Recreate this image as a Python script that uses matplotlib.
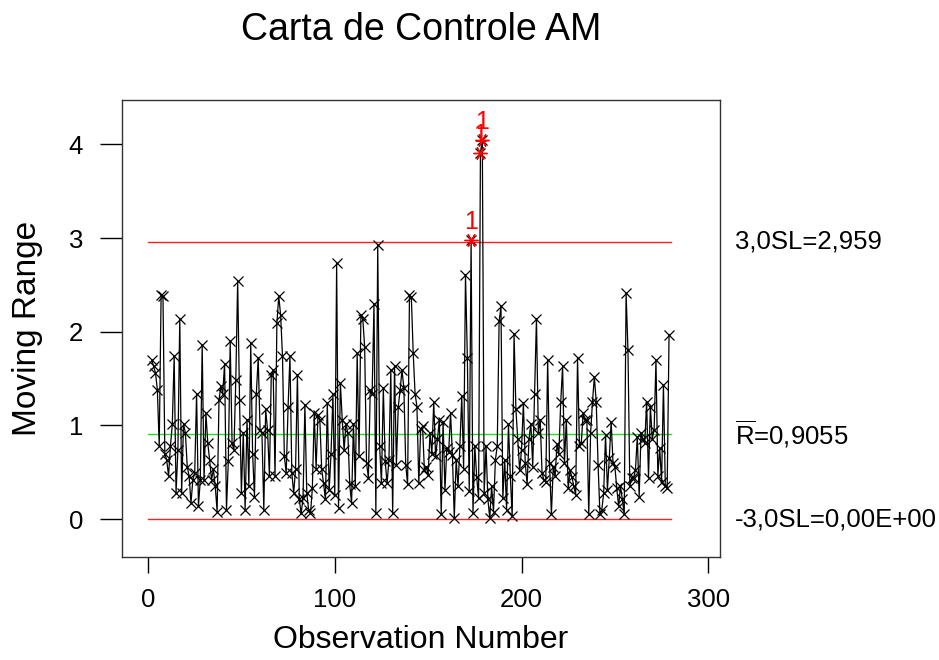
import matplotlib
matplotlib.use("Agg")
import matplotlib.pyplot as plt
import numpy as np

plt.rcParams['font.family'] = ['Liberation Sans', 'DejaVu Sans']
plt.rcParams['mathtext.fontset'] = 'custom'
plt.rcParams['mathtext.rm'] = 'Liberation Sans'

# moving range values, observations 2..280
mr_values = [
    1.70, 1.63, 1.56, 1.38, 0.78, 2.39, 2.38, 0.70, 0.63, 0.46, 0.78, 1.01, 1.74, 0.28, 0.74,
    2.14, 0.28, 1.02, 0.92, 0.56, 0.46, 0.17, 0.42, 0.49, 1.34, 0.14, 0.42, 1.86, 0.42,
    1.13, 0.81, 0.63, 0.42, 0.53, 0.35, 0.08, 1.27, 1.42, 1.34, 1.66, 0.10, 0.62, 1.90, 0.81,
    0.74, 1.49, 2.54, 1.27, 0.28, 0.92, 0.10, 1.06, 0.35, 1.88, 0.70, 0.24, 1.34, 1.72, 0.95,
    0.92, 0.10, 1.17, 0.95, 0.46, 1.54, 1.59, 0.46,
    2.09, 2.38, 2.18, 1.74, 0.67, 0.49, 1.20, 1.74, 0.49, 0.28, 0.53, 1.54, 0.21, 0.06, 0.22,
    1.22, 0.28, 0.10, 0.06, 0.33, 1.13, 0.54, 1.11, 1.06, 0.53, 0.38, 0.21, 1.24, 0.31, 0.70,
    1.33, 0.26, 2.73,
    0.12, 1.45, 1.06, 0.74, 1.02, 0.92, 0.37, 0.17, 1.02, 0.35, 1.77, 0.67, 2.18, 2.14, 1.84,
    0.60, 0.44, 1.38, 1.34, 2.30, 0.06, 2.93, 0.78, 0.38, 1.40, 0.62, 0.38, 0.63, 1.59, 0.06,
    1.63, 0.58, 1.20, 1.38, 1.59,
    1.40, 0.58, 0.37, 2.39, 2.37, 1.77, 1.34, 1.20, 0.38, 0.96, 0.99, 0.52, 0.56, 0.47, 0.92,
    0.70, 1.25, 0.67, 0.85, 1.06, 0.05, 1.04, 0.31, 0.76, 0.72, 1.13, 0.68, 0.01, 0.63, 0.35,
    0.78, 1.31, 0.54, 2.61, 1.72,
    0.30, 2.98, 0.06, 0.78, 0.45, 0.22, 3.91, 4.05, 0.28, 0.78, 0.21, 0.01, 0.35, 0.08, 0.63,
    0.78, 2.11, 2.27, 0.22, 0.63, 0.10, 1.01, 0.46, 0.03, 1.98, 1.17, 0.85, 0.52, 0.74, 1.24,
    0.60, 0.37, 0.85, 1.02, 0.56, 1.34, 2.14,
    0.92, 1.06, 0.49, 0.42, 0.40, 1.70, 0.60, 0.05, 0.56, 0.46, 0.80, 0.70, 1.25, 1.63, 0.60,
    1.06, 0.33, 0.52, 0.45, 0.35, 0.26, 1.72, 0.78, 0.81, 1.13, 1.06, 1.06, 0.05, 0.92, 1.25,
    1.52,
    1.25, 0.58, 0.05, 0.10, 0.28, 0.90, 0.31, 0.65, 1.04, 0.60, 0.56, 0.33, 0.14, 0.35, 0.21,
    0.05, 2.41, 1.81, 0.35, 0.44, 0.44, 0.52, 0.88, 0.24, 0.92, 0.86, 0.81, 1.25, 0.44, 1.20,
    0.86, 0.95, 1.70, 0.46, 0.76, 0.40, 1.43, 0.35, 0.33, 1.97,
]
obs = np.arange(2, 2 + len(mr_values))
mr = np.array(mr_values)

ucl = 2.959
r_bar = 0.9055
lcl = 0.0
n_obs = 280

fig = plt.figure(figsize=(9.39, 6.6), dpi=100)
ax = fig.add_axes([0.130, 0.156, 0.637, 0.692])

# limites
ax.plot([0, n_obs], [ucl, ucl], color='#ff2020', linewidth=1)
ax.plot([0, n_obs], [lcl, lcl], color='#ff2020', linewidth=1)
ax.plot([0, n_obs], [r_bar, r_bar], color='#20e020', linewidth=1)

# serie
ax.plot(obs, mr, color='black', linewidth=0.9, marker='x', markersize=7,
        markeredgewidth=0.9, zorder=3)

# pontos fora de controle
out = mr > ucl
ax.plot(obs[out], mr[out], linestyle='none', marker=(6, 2, 90), markersize=10,
        color='red', markeredgewidth=1, zorder=4)
for x, y in zip(obs[out], mr[out]):
    ax.annotate('1', (x, y), textcoords='offset points', xytext=(0, 4),
                ha='center', va='bottom', color='red', fontsize=18, zorder=5)

ax.set_xlim(-13.9, 306.4)
ax.set_ylim(-0.405, 4.47)
ax.set_xticks([0, 100, 200, 300])
ax.set_yticks([0, 1, 2, 3, 4])
ax.tick_params(labelsize=18.5, width=1, direction='out')
ax.tick_params(axis='y', length=16, pad=12)
ax.tick_params(axis='x', length=11.5, pad=11)
for s in ax.spines.values():
    s.set_color('#333333')
    s.set_linewidth(1)

fig.text(421 / 939, 1 - 30 / 660, 'Carta de Controle AM', fontsize=27,
         ha='center', va='center')
fig.text(421 / 939, 1 - 640 / 660, 'Observation Number', fontsize=23,
         ha='center', va='center')
fig.text(28 / 939, 1 - 328 / 660, 'Moving Range', fontsize=24,
         ha='center', va='center', rotation=90)

tr = ax.get_yaxis_transform()
ax.text(1.025, ucl, '3,0SL=2,959', transform=tr, fontsize=18.5, va='center', ha='left')
ax.text(1.025, r_bar, r'$\overline{\mathrm{R}}$=0,9055', transform=tr, fontsize=18.5,
        va='center', ha='left')
ax.text(1.025, lcl, '-3,0SL=0,00E+00', transform=tr, fontsize=18.5, va='center', ha='left')

fig.savefig('out.png', dpi=100)
